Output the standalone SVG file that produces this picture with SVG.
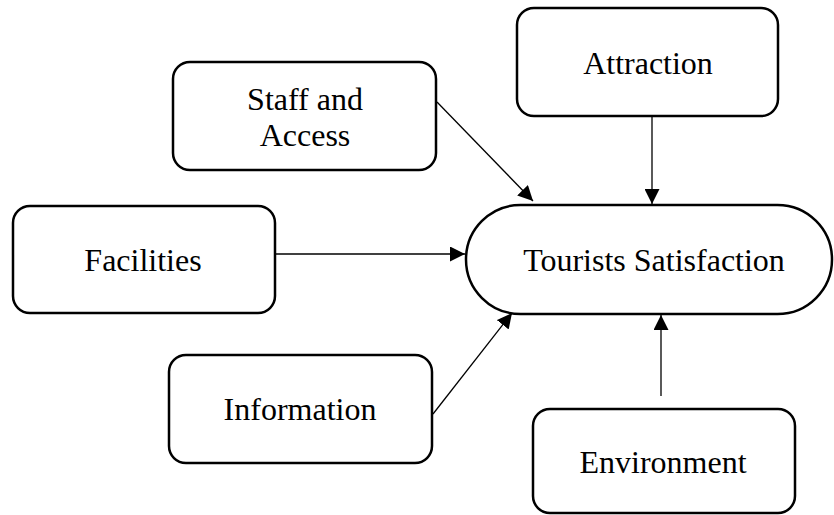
<svg xmlns="http://www.w3.org/2000/svg" width="834" height="515" viewBox="0 0 834 515">
<style>
.box{fill:#fff;stroke:#000;stroke-width:2.5}
.lbl{font-family:"Liberation Serif","Times New Roman",serif;font-size:32px;fill:#000;text-anchor:middle}
.edge{stroke:#000;stroke-width:1.3;fill:none;marker-end:url(#ah)}
</style>
<defs>
<marker id="ah" markerUnits="userSpaceOnUse" markerWidth="15" markerHeight="15" viewBox="0 0 15 15" refX="15" refY="7.5" orient="auto">
<path d="M0,0 L15,7.5 L0,15 z" fill="#000"/>
</marker>
</defs>
<rect width="834" height="515" fill="#fff"/>
<g id="connectors">
<line class="edge" x1="437" y1="102" x2="533" y2="201"/>
<line class="edge" x1="652" y1="116" x2="652" y2="204"/>
<line class="edge" x1="275" y1="254" x2="465" y2="254"/>
<line class="edge" x1="433" y1="414" x2="512" y2="313"/>
<line class="edge" x1="661" y1="396" x2="661" y2="315"/>
</g>
<g id="staff">
<rect class="box" x="173" y="62" width="263" height="108" rx="17"/>
<text class="lbl" x="305" y="110">Staff and</text>
<text class="lbl" x="305" y="146">Access</text>
</g>
<g id="attraction">
<rect class="box" x="517" y="8" width="261" height="108" rx="17"/>
<text class="lbl" x="648" y="74">Attraction</text>
</g>
<g id="facilities">
<rect class="box" x="13" y="206" width="262" height="107" rx="17"/>
<text class="lbl" x="143" y="271">Facilities</text>
</g>
<g id="satisfaction">
<rect class="box" x="466" y="205" width="366" height="109" rx="54.5"/>
<text class="lbl" x="654" y="271">Tourists Satisfaction</text>
</g>
<g id="information">
<rect class="box" x="169" y="355" width="263" height="108" rx="17"/>
<text class="lbl" x="300" y="420">Information</text>
</g>
<g id="environment">
<rect class="box" x="533" y="409" width="262" height="104" rx="17"/>
<text class="lbl" x="663" y="473">Environment</text>
</g>
</svg>
